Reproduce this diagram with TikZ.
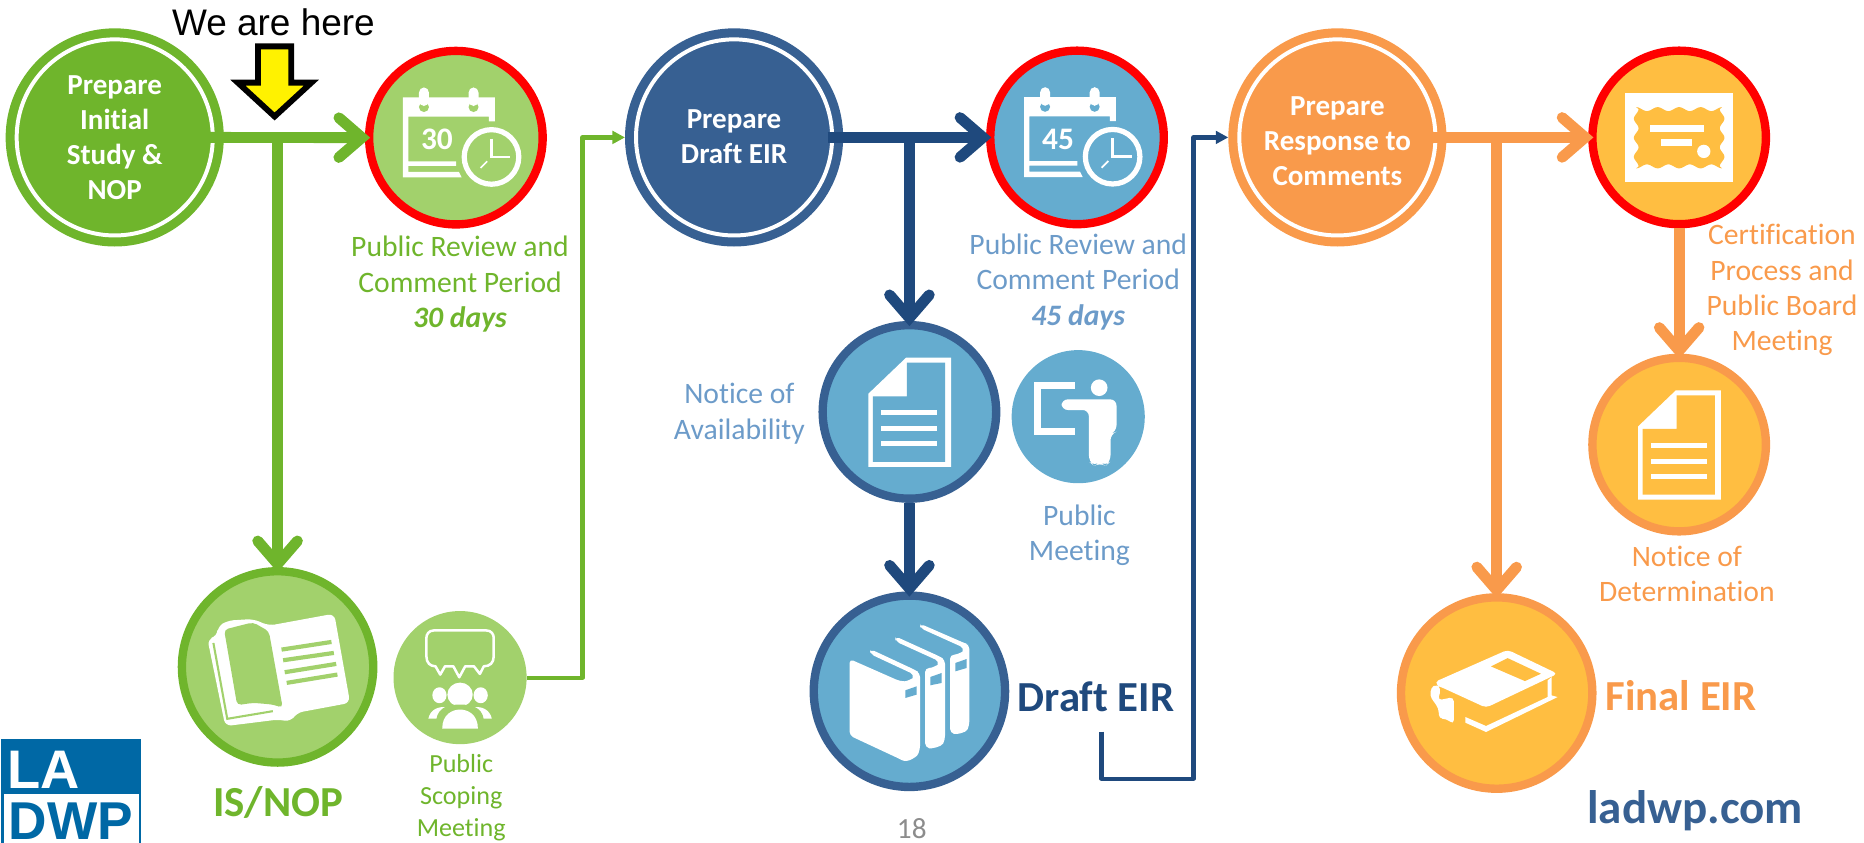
\documentclass[tikz,border=0pt]{standalone}
\usepackage{fontspec}
\setmainfont{Carlito}[Ligatures=NoCommon]
\newfontfamily\arialfont{Liberation Sans}
\usetikzlibrary{arrows.meta}

\definecolor{grndark}{HTML}{6FB52C}
\definecolor{grnlight}{HTML}{A2D16C}
\definecolor{bluring}{HTML}{376092}
\definecolor{blufill}{HTML}{65ACCF}
\definecolor{bluline}{HTML}{1F497D}
\definecolor{blutext}{HTML}{6C9BC9}
\definecolor{orgdark}{HTML}{F99A4B}
\definecolor{orgfill}{HTML}{FFBE41}
\definecolor{logoblue}{HTML}{0068A5}
\definecolor{pagegray}{HTML}{8C8C8C}

\newcommand{\calicon}[4]{%
  \begin{scope}[shift={(#1,#2)},x=.0056cm,y=-.0056cm,shift={(-291,-347)}]
    \fill[white] (132,226) -- (408,226) -- (408,298) -- (390,298) -- (390,284) -- (148,284) -- (148,418)
      -- (292,418) -- (292,432) -- (148,432) -- (148,450) -- (300,450) -- (308,466) -- (132,466) -- cycle;
    \fill[#3] (195,255) circle (15);
    \fill[#3] (344,255) circle (15);
    \fill[white,rounded corners=2.5pt] (180,196) rectangle (210,252);
    \fill[white,rounded corners=2.5pt] (329,196) rectangle (359,252);
    \draw[white,line width=2.5pt,fill=#3] (398,405) circle (82);
    \draw[white,line width=1.3pt] (398,350) -- (398,405) -- (455,405);
    \draw[white,line width=.8pt] (365,438) -- (385,418);
    \node[white,font=\fontsize{15}{15}\selectfont\bfseries] (num#4) at (234,353) {#4};
  \end{scope}}

\newcommand{\docicon}[3]{%
  \begin{scope}[shift={(#1,#2)},x=.0056cm,y=-.0056cm,shift={(-385,-275)}]
    \fill[white] (262,220) -- (375,112) -- (510,112) -- (510,440) -- (262,440) -- cycle;
    \fill[#3] (275,228) -- (377,228) -- (377,127) -- (492,127) -- (492,425) -- (275,425) -- cycle;
    \draw[white,line width=2.3pt] (300,277) -- (468,277) (300,325) -- (468,325) (300,370) -- (468,370);
  \end{scope}}

\tikzset{
  main/.style = {circle,draw=#1,fill=#1,line width=4.3pt,minimum size=3.52cm,inner sep=0pt,
    text=white,align=center,font=\fontsize{13.9}{16.7}\selectfont\bfseries},
  ring/.style = {circle,draw=white,line width=1.9pt,minimum size=3.3cm,inner sep=0pt},
  review/.style = {circle,draw=red,fill=#1,line width=4pt,minimum size=2.92cm,inner sep=0pt},
  outcome/.style 2 args = {circle,draw=#1,fill=#2,line width=4pt,minimum size=3.22cm,inner sep=0pt},
  notice/.style 2 args = {circle,draw=#1,fill=#2,line width=4pt,minimum size=2.92cm,inner sep=0pt},
  meet/.style = {circle,fill=#1,minimum size=2.24cm,inner sep=0pt},
  lbl/.style = {text=#1,align=center,font=\fontsize{14.2}{16.9}\selectfont},
  title/.style = {text=#1,font=\fontsize{20.5}{20.5}\selectfont\bfseries},
  flow/.style = {color=#1,line width=5.2pt,shorten >=-2.5pt,-{Straight Barb[line cap=round,line join=miter,length=11pt,width=19pt]}},
  link/.style = {draw=#1,line width=2pt,line join=round},
}

\begin{document}
\begin{tikzpicture}[x=.02cm,y=-.02cm]
  \useasboundingbox (0,0) rectangle (1568,709);

  % first stage
  \node[main=grndark](prepis) at (96.5,115.6){Prepare\\Initial\\Study \&\\NOP};
  \node[ring](ringis) at (prepis){};
  \node[review=grnlight](calis) at (383.5,115.8){};
  \node[outcome={grndark}{grnlight}](isnop) at (233.5,561){};
  \node[meet=grnlight](scoping) at (387,570){};
  \calicon{383.5}{115.8}{grnlight}{30}
  \coordinate (isjoin) at (isnop |- prepis);
  \coordinate (scopeup) at (490,115.6);

  % second stage
  \node[main=bluring,text depth=1.2pt](prepdraft) at (617.5,115.6){Prepare\\Draft EIR};
  \node[ring](ringdraft) at (prepdraft){};
  \node[review=blufill](caldraft) at (906,115.6){};
  \node[notice={bluring}{blufill}](noa) at (765,346.5){};
  \node[meet=blufill](pubmeet) at (907,350.5){};
  \node[outcome={bluring}{blufill}](draft) at (765,581.5){};
  \calicon{906}{115.6}{blufill}{45}
  \docicon{765}{346.5}{blufill}
  \coordinate (draftjoin) at (noa |- prepdraft);
  \coordinate (draftstart) at (926.5,615.5);
  \coordinate (draftbend) at (1004,655);

  % third stage
  \node[main=orgdark](respond) at (1125,115.6){\rule{0pt}{12.5pt}Prepare\\Response to\\Comments};
  \node[ring](ringrespond) at (respond){};
  \node[review=orgfill](cert) at (1412.5,115.6){};
  \node[notice={orgdark}{orgfill}](nod) at (1412.5,374){};
  \node[outcome={orgdark}{orgfill}](final) at (1259,583){};
  \docicon{1412.5}{374}{orgfill}
  \coordinate (finaljoin) at (final |- respond);

  \path[flow=grndark,shorten <=-7.4pt]
  (prepis.east) edge (calis.west)
  ;
  \path[flow=grndark]
  (isjoin) edge (isnop.north)
  ;
  \path[flow=bluline,shorten <=-7.4pt]
  (prepdraft.east) edge (caldraft.west)
  ;
  \path[flow=bluline]
  (draftjoin) edge (noa.north)
  (noa.south) edge (draft.north)
  ;
  \path[flow=orgdark,shorten <=-7.4pt]
  (respond.east) edge (cert.west)
  ;
  \path[flow=orgdark]
  (finaljoin) edge (final.north)
  (cert.south) edge (nod.north)
  ;
  \draw[link=grndark,-{Triangle[length=6pt,width=6pt]}] (scoping.east) -| (scopeup) -- (prepdraft.west);
  \draw[link=bluline,-{Triangle[length=6pt,width=6pt]}] (draftstart) |- (draftbend) |- (respond.west);

  % open book
  \begin{scope}[shift={(233.5,561)},x=.00667cm,y=-.0056cm,shift={(-702,-382)}]
    \fill[white,rounded corners=3pt] (525,298) -- (550,290) -- (550,262) -- (575,243) -- (640,238) -- (680,258)
      -- (845,222) -- (885,490) -- (750,520) -- (735,547) -- (705,540) -- (570,560) -- cycle;
    \fill[grnlight,rounded corners=2pt] (567,270) -- (640,248) -- (680,275) -- (715,505) -- (690,495) -- (640,490) -- (600,497) -- cycle;
    \draw[grnlight,line width=1pt] (540,310) -- (575,538) -- (690,515);
    \draw[grnlight,line width=2pt] (712,330) -- (838,307) (716,362) -- (844,340) (720,398) -- (850,373) (725,430) -- (853,405);
  \end{scope}

  % audience with bubble
  \begin{scope}[shift={(387,570)},x=.00667cm,y=-.0056cm,shift={(-1160,-414)}]
    \draw[white,line width=1.2pt,line join=round] (1095,272) -- (1225,272) .. controls (1240,272) and (1245,285) .. (1245,295)
      -- (1245,350) .. controls (1245,370) and (1235,380) .. (1220,380) -- (1210,403) -- (1195,380) -- (1173,380) -- (1158,413)
      -- (1143,380) -- (1122,380) -- (1110,405) -- (1098,380) .. controls (1085,380) and (1075,370) .. (1075,350)
      -- (1075,295) .. controls (1075,285) and (1080,272) .. (1095,272) -- cycle;
    \fill[white] (1160,465) ellipse (32 and 36);
    \fill[white] (1108,467) ellipse (18 and 24);
    \fill[white] (1212,467) ellipse (18 and 24);
    \fill[white] (1080,537) .. controls (1085,510) and (1105,500) .. (1125,503) -- (1195,503) .. controls (1215,500) and (1235,510) .. (1240,537) -- cycle;
    \fill[grnlight] (1100,540) .. controls (1105,500) and (1135,495) .. (1160,495) .. controls (1185,495) and (1215,500) .. (1220,540) -- cycle;
    \fill[white] (1115,567) .. controls (1115,525) and (1140,510) .. (1160,510) .. controls (1180,510) and (1205,525) .. (1205,567) -- cycle;
  \end{scope}

  % presenter at a board
  \begin{scope}[shift={(907,350.5)},x=.0056cm,y=-.0056cm,shift={(-895,-290)}]
    \draw[white,line width=3.4pt] (885,196) -- (773,196) -- (773,335) -- (885,335);
    \fill[white] (958,203) circle (25);
    \fill[white,rounded corners=3pt] (845,238) -- (1010,238) -- (1010,335) -- (992,342) -- (992,425) -- (977,438)
      -- (960,428) -- (943,438) -- (927,425) -- (927,270) -- (845,270) -- cycle;
  \end{scope}

  % three books
  \begin{scope}[shift={(765,581.5)},x=.0056cm,y=-.0056cm,shift={(-390,-1115)}]
    \fill[white,rounded corners=2pt] (422,912) -- (555,970) -- (570,975) -- (570,1218) .. controls (560,1240) and (530,1245) .. (512,1240)
      -- (512,1005) .. controls (535,1005) and (550,995) .. (555,985) -- (422,925) -- cycle;
    \fill[blufill] (528,1030) -- (562,1018) -- (562,1045) -- (528,1055) -- cycle;
    \fill[white,rounded corners=2pt] (348,950) -- (480,1010) -- (497,1020) -- (497,1260) .. controls (487,1282) and (455,1288) .. (437,1283)
      -- (437,1045) .. controls (460,1045) and (475,1035) .. (480,1025) -- (348,965) -- cycle;
    \fill[blufill] (453,1072) -- (487,1060) -- (487,1090) -- (453,1097) -- cycle;
    \fill[white,rounded corners=2pt] (272,988) -- (405,1050) -- (422,1060) -- (422,1290) .. controls (410,1318) and (380,1328) .. (360,1318)
      -- (210,1248) -- (210,1018) -- (362,1085) .. controls (385,1085) and (400,1075) .. (405,1065) -- (272,1003) -- cycle;
    \fill[blufill] (378,1112) -- (412,1100) -- (412,1125) -- (378,1135) -- cycle;
  \end{scope}

  % certificate
  \begin{scope}[shift={(1412.5,115.6)},x=.0056cm,y=-.0056cm,shift={(-899,-413)}]
    \fill[white] (735,280) rectangle (1062,548);
    \fill[orgfill] plot[domain=770:1028,samples=50] (\x,{328-6*cos((\x-770)*5.58)})
      -- plot[domain=328:500,samples=40] ({1028-7*cos((\x-328)*6.28)},\x)
      -- plot[domain=1028:770,samples=50] (\x,{500+6*cos((\x-770)*5.58)})
      -- plot[domain=500:328,samples=40] ({770+7*cos((\x-328)*6.28)},\x) -- cycle;
    \fill[white] (810,375) rectangle (975,396);
    \fill[white] (843,418) rectangle (939,438);
    \fill[white] (973,455) circle (20);
  \end{scope}

  % closed book
  \begin{scope}[shift={(1259,583)},x=.0056cm,y=-.0056cm,shift={(-352,-398)}]
    \fill[white,rounded corners=2pt] (385,268) -- (535,340) -- (320,442) -- (185,380) -- (160,372) -- (150,405) -- (178,445)
      -- (178,475) -- (200,475) -- (223,492) -- (223,410) -- (175,420) -- (185,385) -- (165,365) -- cycle;
    \fill[orgfill] (335,318) -- (385,293) -- (485,340) -- (437,362) -- cycle;
    \fill[white] (517,350) -- (517,405) -- (535,410) -- (320,515) -- (258,487) -- (258,470) -- (320,497) -- (505,410) -- (505,360) -- cycle;
  \end{scope}

  % marker
  \node[font=\fontsize{17.7}{20}\selectfont\arialfont](herelbl) at (230,19){We are here};
  \draw[black,fill=yellow,line width=2.8pt,miter limit=10] (217,39) -- (245,39) -- (245,69.5) -- (262,69.5) -- (231,98) -- (200,69.5) -- (217,69.5) -- cycle;

  % logo
  \fill[logoblue] (1,622) rectangle (119,709);
  \fill[white] (3,668) rectangle (117,709);
  \node[white,anchor=base west,inner sep=0pt,font=\fontsize{26}{26}\selectfont\arialfont\bfseries](logola) at (6,663){LA};
  \node[logoblue,anchor=base west,inner sep=0pt,font=\fontsize{25.5}{26}\selectfont\arialfont\bfseries](logodwp) at (7,706){DWP};

  % labels
  \node[lbl=grndark](calislbl) at (387,239){Public Review and\\Comment Period\\\textbf{\textit{30 days}}};
  \node[lbl=grndark,font=\fontsize{12.5}{15.4}\selectfont](scopinglbl) at (388,671){Public\\Scoping\\Meeting};
  \node[title=grndark](isnoplbl) at (234,675){IS/NOP};
  \node[lbl=blutext](caldraftlbl) at (907,237){Public Review and\\Comment Period\\\textbf{\textit{45 days}}};
  \node[lbl=blutext](noalbl) at (622,348){Notice of\\Availability};
  \node[lbl=blutext](pubmeetlbl) at (908,450){Public\\Meeting};
  \node[title=bluline](draftlbl) at (922,586){Draft EIR};
  \node[lbl=orgdark](certlbl) at (1499,244){Certification\\Process and\\Public Board\\Meeting};
  \node[lbl=orgdark](nodlbl) at (1419,483){Notice of\\Determination};
  \node[title=orgdark](finallbl) at (1414,585){Final EIR};
  \node[text=bluring,font=\fontsize{22.5}{22.5}\selectfont\bfseries](sitelbl) at (1426,682){ladwp.com};
  \node[text=pagegray,font=\fontsize{14}{14}\selectfont](pagelbl) at (767,697){18};
\end{tikzpicture}
\end{document}
